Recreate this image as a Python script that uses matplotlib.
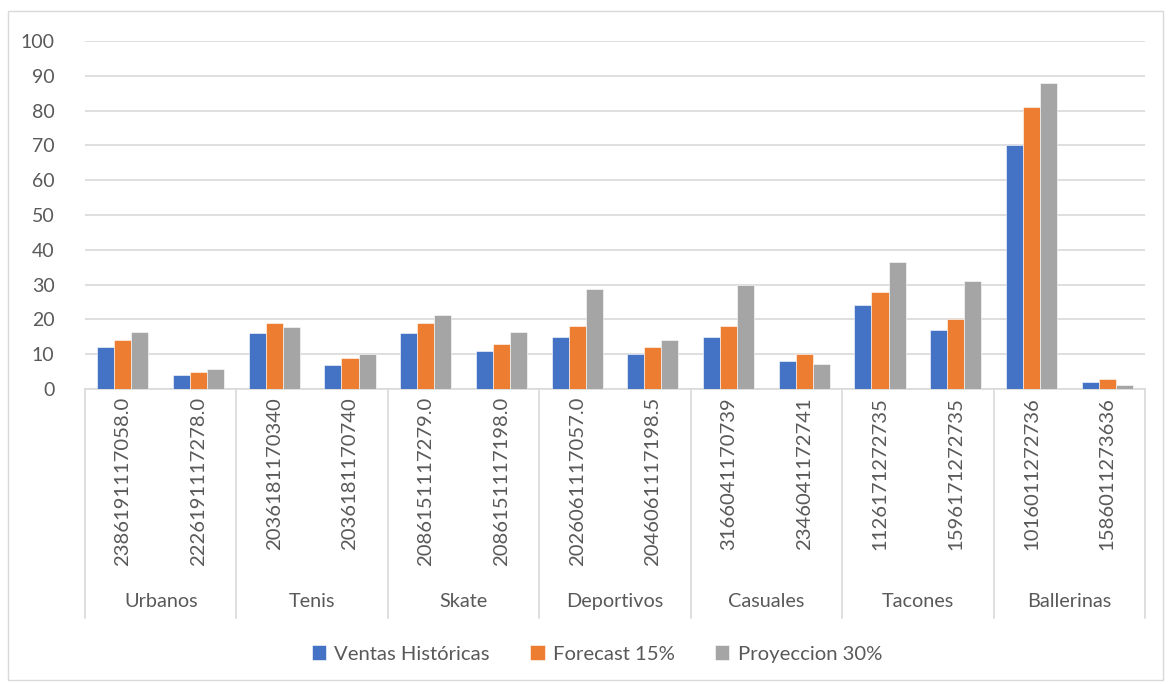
import matplotlib
matplotlib.use("Agg")
import matplotlib.pyplot as plt
from matplotlib.patches import Rectangle
from matplotlib.transforms import blended_transform_factory
import numpy as np

plt.rcParams['font.family'] = ['Lato', 'DejaVu Sans']

groups = ["Urbanos", "Tenis", "Skate", "Deportivos", "Casuales", "Tacones", "Ballerinas"]
codes = ["2386191117058.0", "2226191117278.0",
         "2036181170340", "2036181170740",
         "2086151117279.0", "2086151117198.0",
         "2026061117057.0", "2046061117198.5",
         "3166041170739", "2346041172741",
         "1126171272735", "1596171272735",
         "1016011272736", "1586011273636"]
ventas = [12, 4, 16, 7, 16, 11, 15, 10, 15, 8, 24, 17, 70, 2]
forecast = [14, 5, 19, 9, 19, 13, 18, 12, 18, 10, 28, 20, 81, 3]
proyeccion = [16.3, 5.7, 17.7, 10, 21.2, 16.4, 28.8, 14, 29.8, 7.2, 36.4, 31.1, 88, 1.1]

series = [("Ventas Históricas", ventas, "#4472C4"),
          ("Forecast 15%", forecast, "#ED7D31"),
          ("Proyeccion 30%", proyeccion, "#A5A5A5")]

W, H = 1171, 684
fig = plt.figure(figsize=(W / 100, H / 100), dpi=100)
fig.patches.append(Rectangle((8 / W, 4 / H), 1155 / W, 669 / H, transform=fig.transFigure,
                             fill=False, edgecolor="#D9D9D9", linewidth=1))

ax = fig.add_axes([85 / W, 1 - 389 / H, (1145 - 85) / W, (389 - 41) / H])
n = len(codes)
x = np.arange(n) + 0.5
bw = 0.225
for k, (name, vals, col) in enumerate(series):
    ax.bar(x + (k - 1) * bw, vals, bw, color=col, label=name,
           edgecolor="white", linewidth=0.4, zorder=3)

ax.set_xlim(0, n)
ax.set_ylim(0, 100)
ax.set_yticks(range(0, 101, 10))
ax.yaxis.grid(True, color="#D9D9D9", linewidth=1.2, zorder=0)
ax.tick_params(axis="y", length=0, labelsize=14, labelcolor="#595959", pad=22)
ax.set_xticks([])
for s in ["top", "right", "left"]:
    ax.spines[s].set_visible(False)
ax.spines["bottom"].set_color("#D9D9D9")
ax.spines["bottom"].set_linewidth(1.2)

trans = blended_transform_factory(ax.transData, ax.transAxes)
# category separators below the axis
for b in range(0, n + 1, 2):
    ax.plot([b, b], [0, -229 / 348], transform=trans, color="#D9D9D9",
            linewidth=1.2, clip_on=False)

# rotated item codes
for xi, c in zip(x, codes):
    ax.text(xi, -8 / 348, c, transform=trans, rotation=90, ha="center", va="top",
            fontsize=14.6, color="#595959")

# group names
for g, name in enumerate(groups):
    ax.text(2 * g + 1, -213 / 348, name, transform=trans, ha="center", va="center",
            fontsize=14.3, color="#595959")

leg = fig.legend(loc="center", bbox_to_anchor=(597 / W, 1 - 654 / H), ncol=3,
                 frameon=False, fontsize=14.6, labelcolor="#595959",
                 handlelength=0.7, handleheight=0.7, handletextpad=0.4,
                 columnspacing=2.0)

fig.savefig("out.png", dpi=100, facecolor="white")
